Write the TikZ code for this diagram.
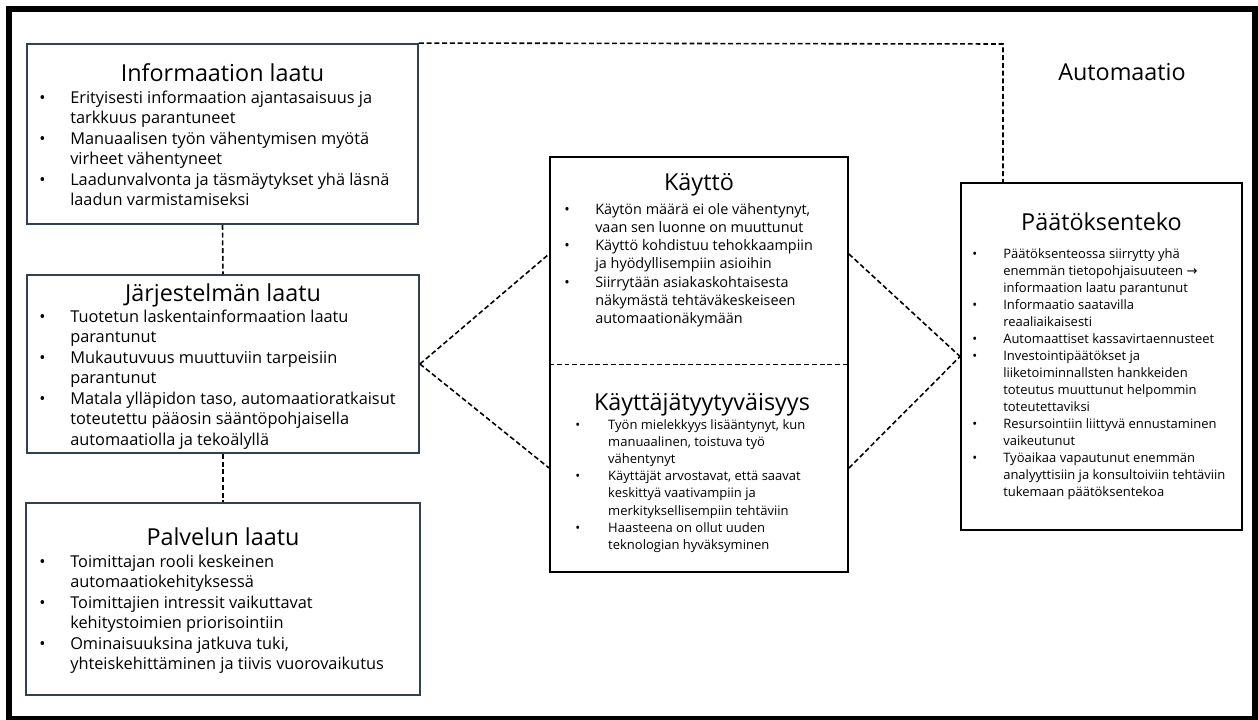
\documentclass[tikz,border=0pt]{standalone}
\usepackage{fontspec}
\setmainfont{Open Sans}
\newfontfamily\arrowfont{DejaVu Sans}
\usepackage{tikz}

\definecolor{leftline}{RGB}{50,64,80}

\tikzset{
  leftbox/.style={draw=leftline, line width=1.1pt, rectangle, inner sep=0pt},
  midbox/.style={draw=black, line width=1.1pt, rectangle, inner sep=0pt},
  dashline/.style={black, line width=0.9pt, dash pattern=on 2.8pt off 1.6pt},
  headtext/.style={font=\fontsize{13.3}{16}\selectfont, anchor=base, inner sep=0pt},
  bodytext/.style={anchor=base west, inner sep=0pt, align=left}
}

\newcommand{\bul}{\textbullet}

\begin{document}
\begin{tikzpicture}[x=0.02cm, y=-0.02cm]
  \useasboundingbox (0,0) rectangle (1258,720);
  % outer frame
  \draw[line width=3.4pt] (9,9) rectangle (1255,719);

  % left column
  \node[leftbox, minimum width=7.82cm, minimum height=3.60cm] (info) at (222.5,134) {};
  \node[leftbox, minimum width=7.84cm, minimum height=3.56cm] (sys) at (223,364) {};
  \node[leftbox, minimum width=7.88cm, minimum height=3.84cm] (serv) at (223,599) {};

  \node[headtext] (infohead) at (222.5,81) {Informaation laatu};
  \node[bodytext, font=\fontsize{9.3}{11.7}\selectfont] (infobody) at (39,103) {%
    \begin{tabular}[t]{@{}p{17.6pt}@{}l@{}}
      \bul & Erityisesti informaation ajantasaisuus ja\\
           & tarkkuus parantuneet\\
      \bul & Manuaalisen työn vähentymisen myötä\\
           & virheet vähentyneet\\
      \bul & Laadunvalvonta ja täsmäytykset yhä läsnä\\
           & laadun varmistamiseksi
    \end{tabular}};

  \node[headtext] (syshead) at (223,301) {Järjestelmän laatu};
  \node[bodytext, font=\fontsize{9.3}{11.7}\selectfont] (sysbody) at (39,322) {%
    \begin{tabular}[t]{@{}p{17.6pt}@{}l@{}}
      \bul & Tuotetun laskentainformaation laatu\\
           & parantunut\\
      \bul & Mukautuvuus muuttuviin tarpeisiin\\
           & parantunut\\
      \bul & Matala ylläpidon taso, automaatioratkaisut\\
           & toteutettu pääosin sääntöpohjaisella\\
           & automaatiolla ja tekoälyllä
    \end{tabular}};

  \node[headtext] (servhead) at (223,545) {Palvelun laatu};
  \node[bodytext, font=\fontsize{9.3}{11.7}\selectfont] (servbody) at (39,567) {%
    \begin{tabular}[t]{@{}p{17.6pt}@{}l@{}}
      \bul & Toimittajan rooli keskeinen\\
           & automaatiokehityksessä\\
      \bul & Toimittajien intressit vaikuttavat\\
           & kehitystoimien priorisointiin\\
      \bul & Ominaisuuksina jatkuva tuki,\\
           & yhteiskehittäminen ja tiivis vuorovaikutus
    \end{tabular}};

  % middle column
  \node[midbox, minimum width=5.96cm, minimum height=8.30cm] (mid) at (699,364.5) {};
  \draw[dashline] (mid.west) -- (mid.east);

  \node[headtext] (usehead) at (699,190) {Käyttö};
  \node[bodytext, font=\fontsize{8.2}{10.4}\selectfont] (usebody) at (564,214) {%
    \begin{tabular}[t]{@{}p{17.6pt}@{}l@{}}
      \bul & Käytön määrä ei ole vähentynyt,\\
           & vaan sen luonne on muuttunut\\
      \bul & Käyttö kohdistuu tehokkaampiin\\
           & ja hyödyllisempiin asioihin\\
      \bul & Siirrytään asiakaskohtaisesta\\
           & näkymästä tehtäväkeskeiseen\\
           & automaationäkymään
    \end{tabular}};

  \node[headtext] (sathead) at (702,410) {Käyttäjätyytyväisyys};
  \node[bodytext, font=\fontsize{7.4}{9.8}\selectfont] (satbody) at (575,429) {%
    \begin{tabular}[t]{@{}p{18.7pt}@{}l@{}}
      \bul & Työn mielekkyys lisääntynyt, kun\\
           & manuaalinen, toistuva työ\\
           & vähentynyt\\
      \bul & Käyttäjät arvostavat, että saavat\\
           & keskittyä vaativampiin ja\\
           & merkityksellisempiin tehtäviin\\
      \bul & Haasteena on ollut uuden\\
           & teknologian hyväksyminen
    \end{tabular}};

  % right column
  \node[midbox, minimum width=5.62cm, minimum height=6.94cm] (dec) at (1101.5,356.5) {};
  \node[headtext] (dechead) at (1101.5,230) {Päätöksenteko};
  \node[bodytext, font=\fontsize{7.4}{9.7}\selectfont] (decbody) at (972,258) {%
    \begin{tabular}[t]{@{}p{17.6pt}@{}l@{}}
      \bul & Päätöksenteossa siirrytty yhä\\
           & enemmän tietopohjaisuuteen {\arrowfont →}\\
           & informaation laatu parantunut\\
      \bul & Informaatio saatavilla\\
           & reaaliaikaisesti\\
      \bul & Automaattiset kassavirtaennusteet\\
      \bul & Investointipäätökset ja\\
           & liiketoiminnallsten hankkeiden\\
           & toteutus muuttunut helpommin\\
           & toteutettaviksi\\
      \bul & Resursointiin liittyvä ennustaminen\\
           & vaikeutunut\\
      \bul & Työaikaa vapautunut enemmän\\
           & analyyttisiin ja konsultoiviin tehtäviin\\
           & tukemaan päätöksentekoa
    \end{tabular}};

  \node[headtext] (auto) at (1122,80) {Automaatio};

  % connectors
  \coordinate (midw1) at (mid.west |- 0,254);
  \coordinate (midw2) at (mid.west |- 0,468);
  \coordinate (mide1) at (mid.east |- 0,254);
  \coordinate (mide2) at (mid.east |- 0,468);
  \coordinate (bend) at (1003,44);

  \draw[dashline] (info.south) -- (sys.north);
  \draw[dashline] (sys.south) -- (serv.north);
  \draw[dashline] (sys.east) -- (midw1);
  \draw[dashline] (sys.east) -- (midw2);
  \draw[dashline] (mide1) -- (dec.west);
  \draw[dashline] (mide2) -- (dec.west);
  \draw[dashline] (info.north east) -- (bend) -- (bend |- dec.north);
\end{tikzpicture}
\end{document}
